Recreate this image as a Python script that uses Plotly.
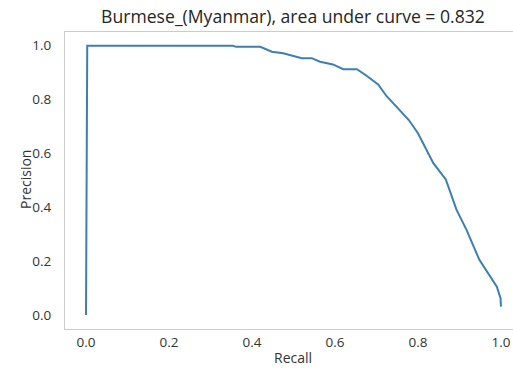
import plotly.graph_objects as go

recall = [0.0, 0.003, 0.10, 0.20, 0.354, 0.362, 0.42, 0.448, 0.475, 0.52, 0.544, 0.564, 0.595,
          0.62, 0.653, 0.677, 0.704, 0.724, 0.778, 0.80, 0.837, 0.867, 0.893, 0.917,
          0.948, 0.99, 0.999, 1.0]
precision = [0.0, 0.997, 0.997, 0.997, 0.997, 0.993, 0.993, 0.975, 0.969, 0.951, 0.951, 0.938, 0.928,
             0.91, 0.91, 0.885, 0.854, 0.811, 0.722, 0.673, 0.562, 0.502, 0.389, 0.315,
             0.204, 0.105, 0.062, 0.031]
title = "Burmese_(Myanmar), area under curve = 0.832"
ticks = [0.0, 0.2, 0.4, 0.6, 0.8, 1.0]

W, H = 513, 369
L, T, B = 65, 32, 40
PW, PH = W - L, H - T - B
font = "Open Sans, sans-serif"

fig = go.Figure()
fig.add_trace(go.Scatter(x=recall, y=precision, mode="lines",
                         line=dict(color="#3a7fb6", width=2), showlegend=False))

axis_common = dict(showgrid=False, zeroline=False, showline=True, linecolor="#cccccc",
                   linewidth=1, ticks="", tickfont=dict(family=font, size=13.5, color="#333333"),
                   tickvals=ticks, ticktext=[f"{t:.1f}" for t in ticks])
fig.update_xaxes(range=[-0.0506, 1.029], mirror=True, ticklabelstandoff=1, **axis_common)
fig.update_yaxes(range=[-0.052, 1.048], mirror=False, ticklabelstandoff=10, **axis_common)

fig.update_layout(
    width=W, height=H, margin=dict(l=L, r=0, t=T, b=B),
    paper_bgcolor="white", plot_bgcolor="white",
    title=dict(text=title, x=293 / W, xref="container", xanchor="center",
               y=1 - 17 / H, yref="container", yanchor="middle",
               font=dict(family=font, size=17.6, color="#262626")),
    annotations=[
        dict(text="Recall", x=(293 - L) / PW, xref="paper", y=(T + PH - 357) / PH, yref="paper",
             xanchor="center", yanchor="middle", showarrow=False,
             font=dict(family=font, size=14, color="#333333")),
        dict(text="Precision", x=(25 - L) / PW, xref="paper", y=(T + PH - 180) / PH, yref="paper",
             xanchor="center", yanchor="middle", showarrow=False, textangle=-90,
             font=dict(family=font, size=14, color="#333333")),
    ],
)
fig.write_html("out.html")
